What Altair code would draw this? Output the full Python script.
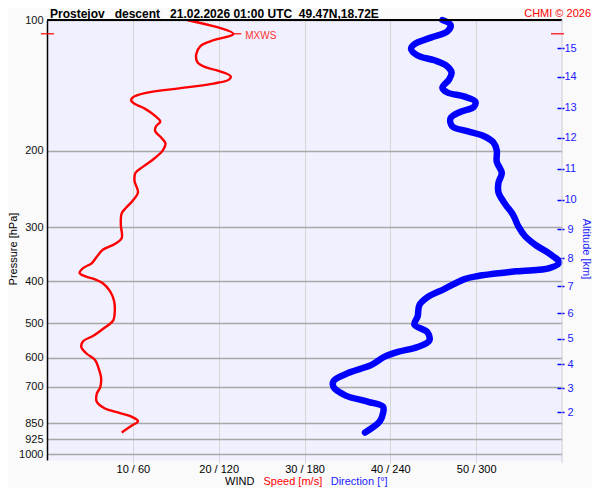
import json
import numpy as np
import pandas as pd
import altair as alt

# ---------------- data ----------------
speed_ms = [16.3, 21.7, 19.1, 17.9, 17.4, 17.5, 18.3, 19.8, 21.4, 21.2,
            19.4, 16.0, 11.4, 10.0, 9.8, 10.2, 11.4, 12.7, 13.2, 12.7,
            12.6, 13.3, 13.8, 13.5, 12.5, 11.2, 10.3, 10.2, 10.6, 10.0,
            9.2, 8.7, 8.6, 8.7, 7.9, 6.5, 5.8, 5.2, 4.2, 3.8,
            4.4, 5.6, 6.5, 7.3, 7.8, 7.9, 7.7, 6.7, 5.4, 4.2,
            4.0, 4.6, 5.6, 6.0, 6.3, 6.2, 5.8, 5.8, 6.7, 8.5,
            10.0, 10.6, 9.8, 8.7]
speed_hpa = [100, 107.6, 111.8, 114.7, 119.7, 124.9, 128.1, 130.7, 134.8, 137.2,
             140.1, 143.2, 147.4, 150.7, 153.3, 156.0, 160.0, 167.0, 171.3, 175.8,
             180.4, 186.6, 192.5, 199.8, 208.5, 217.7, 225.2, 235.1, 249.5, 260.5,
             270.9, 278.9, 296.1, 318.2, 328.1, 338.4, 351.3, 363.6, 373.0, 382.7,
             389.3, 395.9, 404.1, 420.4, 442.5, 465.8, 492.8, 511.6, 534.1, 549.7,
             566.9, 586.7, 607.2, 633.7, 667.0, 702.0, 726.5, 758.2, 784.6, 805.1,
             823.1, 840.2, 861.9, 892.0]

dir_deg = [276.4, 282.1, 279.9, 268.3, 256.8, 254.5, 259.1, 270.7, 278.7, 282.8,
           281.0, 276.4, 279.9, 291.4, 299.4, 298.3, 289.1, 282.1, 283.3, 293.7,
           305.2, 312.1, 314.4, 314.4, 317.9, 315.6, 315.6, 320.1, 325.9, 329.4,
           334.0, 342.0, 351.2, 358.1, 351.2, 328.2, 300.6, 291.4, 277.6, 266.0,
           260.3, 259.1, 256.8, 266.0, 267.2, 259.1, 245.3, 236.1, 226.9, 210.8,
           200.4, 200.4, 208.5, 224.6, 234.9, 234.9, 232.7, 222.3]
dir_hpa = [100, 102.6, 106.2, 109.8, 113.7, 116.6, 120.7, 123.8, 127.1, 132.1,
           137.2, 143.2, 146.9, 150.0, 154.1, 158.6, 162.7, 168.4, 175.8, 180.4,
           185.0, 191.5, 199.8, 212.1, 225.2, 237.1, 249.5, 265.0, 281.4, 298.6,
           314.3, 330.8, 345.4, 362.3, 373.0, 379.4, 389.3, 395.9, 416.8, 435.1,
           453.9, 482.1, 503.0, 524.8, 548.1, 566.9, 581.6, 596.7, 623.0, 650.1,
           678.4, 702.0, 732.5, 758.2, 778.0, 805.1, 840.2, 892.0]

p_tick_vals = [100, 200, 300, 400, 500, 600, 700, 850, 925, 1000]
p_tick_labels = ["100", "200", "300", "400", "500", "600", "700", "850", "925", "1000"]

x_tick_vals = [10, 20, 30, 40, 50]
x_tick_labels = ["10 / 60", "20 / 120", "30 / 180", "40 / 240", "50 / 300"]

alt_km_labels = ["2", "3", "4", "5", "6", "7", "8", "9", "10", "11", "12", "13", "14", "15"]
alt_km_hpa = [802.0, 704.6, 620.8, 543.2, 473.7, 411.1, 354.3, 303.8, 259.6,
              219.9, 186.7, 159.5, 135.1, 116.2]

title_txt = ["Prostejov\u00a0\u00a0\u00a0descent\u00a0\u00a0\u00a021.02.2026 01:00 UTC\u00a0\u00a049.47N,18.72E"]
credit_txt = ["CHMI \u00a9 2026"]
legend_wind = ["WIND"]
legend_speed = ["Speed [m/s]"]
legend_dir = ["Direction [\u00b0]"]
ytitle_txt = ["Pressure [hPa]"]
alttitle_txt = ["Altitude [km]"]
mxws_txt = ["MXWS"]

# ---------------- layout ----------------
W, H = 515, 440
P_BOTTOM = 1032.3
FONT = "Liberation Sans"
RED = "#ff0000"
BLUE = "#0000ff"

def yscale():
    return alt.Scale(type="log", domain=[100, P_BOTTOM], reverse=True, nice=False)

def sx(axis=None):
    return alt.X("s:Q", scale=alt.Scale(domain=[0, 60], nice=False, zero=False), axis=axis)

def py(axis=None):
    return alt.Y("p:Q", scale=yscale(), axis=axis)

def arr_expr(labels, vals):
    return f"{json.dumps(labels)}[indexof({json.dumps(vals)}, datum.value)]"

speed_df = pd.DataFrame({"s": speed_ms, "p": speed_hpa, "i": list(range(len(speed_ms)))})
dir_df = pd.DataFrame({"d": dir_deg, "p": dir_hpa, "i": list(range(len(dir_deg)))})
altax_df = pd.DataFrame({"p": alt_km_hpa})
imax = int(np.argmax(speed_ms))
mx_df = pd.DataFrame({"s": [speed_ms[imax]], "p": [speed_hpa[imax]], "label": mxws_txt})

speed = alt.Chart(speed_df).mark_line(
    color=RED, strokeWidth=2.4, interpolate="catmull-rom"
).encode(
    x=sx(alt.Axis(values=x_tick_vals, labelExpr=arr_expr(x_tick_labels, x_tick_vals),
                  grid=True, gridColor="#d6d6d6", gridWidth=1, domain=False,
                  tickColor="#d6d6d6", tickSize=3, labelFontSize=11, labelColor="#000000",
                  labelPadding=0, labelFlush=False, labelOverlap=False, title=None)),
    y=py(alt.Axis(values=p_tick_vals, labelExpr=arr_expr(p_tick_labels, p_tick_vals),
                  grid=True, gridColor="#a8a8a8", gridWidth=1.3, ticks=False,
                  domainColor="#000000", domainWidth=1.5, labelFontSize=11,
                  labelColor="#111111", labelPadding=4, labelFlush=False,
                  labelOverlap=False, title=None)),
    order="i:Q",
)

direction = alt.Chart(dir_df).mark_line(
    color=BLUE, strokeWidth=6.5, strokeCap="round", strokeJoin="round",
    interpolate="catmull-rom"
).encode(
    x=alt.X("d:Q", scale=alt.Scale(domain=[0, 360], nice=False, zero=False), axis=None),
    y=py(),
    order="i:Q",
)

alt_axis = alt.Chart(altax_df).mark_point(opacity=0).encode(
    y=py(alt.Axis(orient="right", values=alt_km_hpa,
                  labelExpr=arr_expr(alt_km_labels, alt_km_hpa),
                  offset=-5, tickSize=7, tickColor=BLUE, tickWidth=1.5, domain=False,
                  grid=False, labelColor="#1a1aff", labelFontSize=11, labelAlign="center",
                  labelPadding=6, labelFlush=False, labelOverlap=False, title=None))
)

mx_rule = alt.Chart(mx_df).mark_rule(color=RED, strokeWidth=1.2, x2Offset=8).encode(
    x=sx(), x2=alt.X2("s"), y=py()
)
mx_text = alt.Chart(mx_df).mark_text(
    align="left", baseline="middle", dx=12, dy=2, color="#ff3030", fontSize=10
).encode(x=sx(), y=py(), text="label:N")
mx_left = alt.Chart(mx_df).mark_rule(color=RED, strokeWidth=1.2).encode(
    y=py(), x=alt.value(-6), x2=alt.value(7)
)
mx_right = alt.Chart(mx_df).mark_rule(color=RED, strokeWidth=1.2).encode(
    y=py(), x=alt.value(W - 11), x2=alt.value(W + 2)
)

frame_df = pd.DataFrame({"z": [0]})
top_border = alt.Chart(frame_df).mark_rule(color="#000000", strokeWidth=2).encode(
    x=alt.value(0), x2=alt.value(W), y=alt.value(0)
)
right_border = alt.Chart(frame_df).mark_rule(color="#d0d0d0", strokeWidth=1).encode(
    x=alt.value(W), y=alt.value(0), y2=alt.value(H + 3)
)

def label(txt, x, y, color="#000000", size=11, align="left", weight="normal", angle=0):
    return alt.Chart(pd.DataFrame({"t": txt})).mark_text(
        align=align, baseline="middle", color=color, fontSize=size,
        fontWeight=weight, angle=angle
    ).encode(x=alt.value(x), y=alt.value(y), text="t:N")

texts = [
    label(title_txt, 3, -6, size=12, weight="bold"),
    label(credit_txt, 544, -6, color=RED, align="right"),
    label(ytitle_txt, -33.5, 229, align="center", angle=270),
    label(alttitle_txt, 539, 229, color="#1a1aff", align="center", angle=90),
    label(legend_wind, 178, 462),
    label(legend_speed, 216.5, 462, color=RED),
    label(legend_dir, 283.7, 462, color="#1a1aff"),
]

chart = alt.layer(
    speed, direction, alt_axis, top_border, right_border,
    mx_rule, mx_text, mx_left, mx_right, *texts
).resolve_scale(
    x="independent", y="independent"
).properties(
    width=W, height=H,
    padding={"left": 39, "top": 12, "right": 30, "bottom": 28},
    autosize=alt.AutoSizeParams(type="none"),
    background="#fafafa",
).configure_view(
    fill="#f0f0ff", stroke="transparent"
).configure_axis(
    labelFont=FONT, titleFont=FONT
).configure_text(
    font=FONT
)

chart.save("out.html", embed_options={"renderer": "svg", "actions": False})
